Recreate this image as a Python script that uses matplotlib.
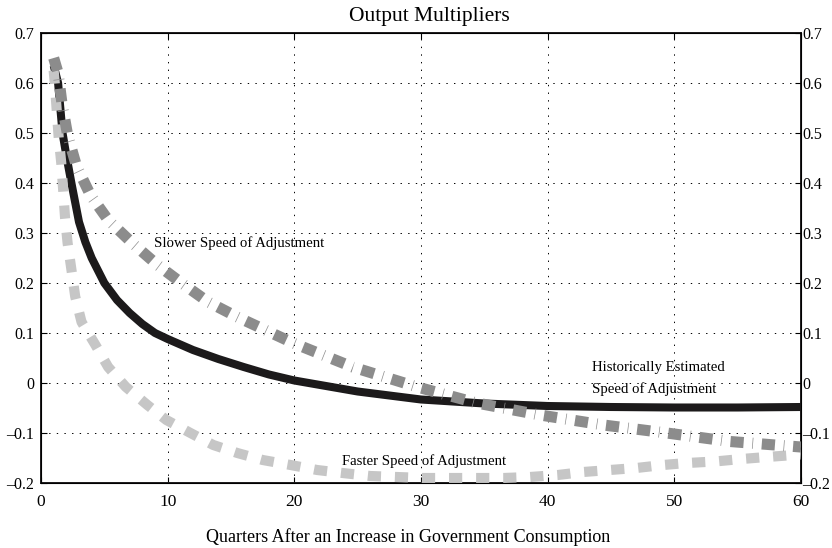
import matplotlib.pyplot as plt
import numpy as np

# readings (quarters, multiplier)
hist_q = [1, 1.35, 1.7, 2, 2.4, 3, 3.5, 4, 5, 6, 7, 8, 9, 10, 12, 14, 16, 18, 20,
          25, 30, 35, 40, 45, 50, 55, 60]
hist_y = [0.635, 0.6, 0.5, 0.455, 0.4, 0.322, 0.282, 0.25, 0.2, 0.166, 0.14,
          0.118, 0.1, 0.088, 0.066, 0.048, 0.032, 0.017, 0.005,
          -0.017, -0.033, -0.041, -0.046, -0.048, -0.049, -0.049, -0.048]

slow_q = [1, 1.35, 1.65, 2.1, 2.8, 3.9, 5.3, 7.2, 9.2, 11.1, 13.2, 15.5, 17.7, 19.9,
          24.6, 29.7, 34.4, 39.4, 44.4, 49.4, 54.4, 60]
slow_y = [0.65, 0.62, 0.56, 0.496, 0.434, 0.376, 0.326, 0.28, 0.236, 0.2, 0.162,
          0.132, 0.106, 0.08, 0.032, -0.008, -0.04, -0.064, -0.084, -0.1, -0.117, -0.128]

fast_q = [1, 1.1, 1.25, 1.4, 1.6, 1.75, 1.9, 2.1, 2.4, 2.7, 3.2, 4.3, 5.3, 6.7, 8.4,
          9.9, 11.8, 13.6, 15.5, 17.5, 19.7, 21.8, 23.8, 26, 28.1, 30.2, 34.4, 36.5,
          38.6, 40.8, 42.8, 44.9, 47, 49.1, 51, 53.2, 55.3, 57.3, 60]
fast_y = [0.625, 0.596, 0.542, 0.49, 0.44, 0.386, 0.33, 0.28, 0.227, 0.173, 0.122,
          0.076, 0.032, -0.008, -0.044, -0.074, -0.1, -0.124, -0.14, -0.154, -0.164,
          -0.174, -0.18, -0.186, -0.188, -0.19, -0.19, -0.19, -0.188, -0.184, -0.178,
          -0.174, -0.17, -0.164, -0.16, -0.157, -0.152, -0.148, -0.143]

yticks = [-0.2, -0.1, 0, 0.1, 0.2, 0.3, 0.4, 0.5, 0.6, 0.7]
xticks = [0, 10, 20, 30, 40, 50, 60]
ylabels = [('%g' % v).replace('-', '\u2013') for v in yticks]

plt.rcParams['font.family'] = ['Liberation Serif', 'DejaVu Serif']
plt.rcParams['lines.scale_dashes'] = False

fig = plt.figure(figsize=(8.32, 5.48), dpi=100)
ax = fig.add_axes([41 / 832, 65 / 548, 760 / 832, 450 / 548])

ax.plot(hist_q, hist_y, color='#1c1a1b', lw=5.8, solid_capstyle='butt', zorder=3)
ax.plot(fast_q, fast_y, color='#c6c6c6', lw=7.3, dashes=(9.5, 10), dash_capstyle='butt', zorder=4)
ax.plot(slow_q, slow_y, color='#8c8c8c', lw=8.0, dashes=(9.5, 6.3, 0.5, 6.3),
        dash_capstyle='butt', zorder=5)

ax.set_xlim(0, 60)
ax.set_ylim(-0.2, 0.7)
ax.set_xticks(xticks)
ax.set_yticks(yticks)
ax.set_yticklabels(ylabels)
ax.grid(True, color='black', linestyle=(0, (1, 4.5)), linewidth=0.7)
ax.tick_params(direction='in', length=4, width=0.8, labelsize=12.5, top=True, right=True)
ax.tick_params(axis='x', pad=8)
ax.tick_params(axis='y', pad=5, labelsize=11.5)
for sp in ax.spines.values():
    sp.set_linewidth(1.4)
    sp.set_color('#1c1a1b')

# right-hand labels with their own (tighter) padding
ax2 = ax.twinx()
ax2.set_ylim(-0.2, 0.7)
ax2.set_yticks(yticks)
ax2.set_yticklabels(ylabels)
ax2.tick_params(direction='in', length=4, width=0.8, labelsize=11.5, pad=1)

ax.set_title('Output Multipliers', fontsize=15.5, pad=8.5, x=(429 - 41) / 760)
ax.set_xlabel('Quarters After an Increase in Government Consumption', fontsize=13,
              labelpad=13, x=(408 - 41) / 760)

ax.text(8.9, 0.28, 'Slower Speed of Adjustment', fontsize=10.6, va='center', ha='left', zorder=6)
ax.text(43.5, 0.032, 'Historically Estimated', fontsize=10.6, va='center', ha='left', zorder=6)
ax.text(43.5, -0.012, 'Speed of Adjustment', fontsize=10.6, va='center', ha='left', zorder=6)
ax.text(23.8, -0.156, 'Faster Speed of Adjustment', fontsize=10.6, va='center', ha='left', zorder=6)

fig.savefig('out.png', dpi=100)
